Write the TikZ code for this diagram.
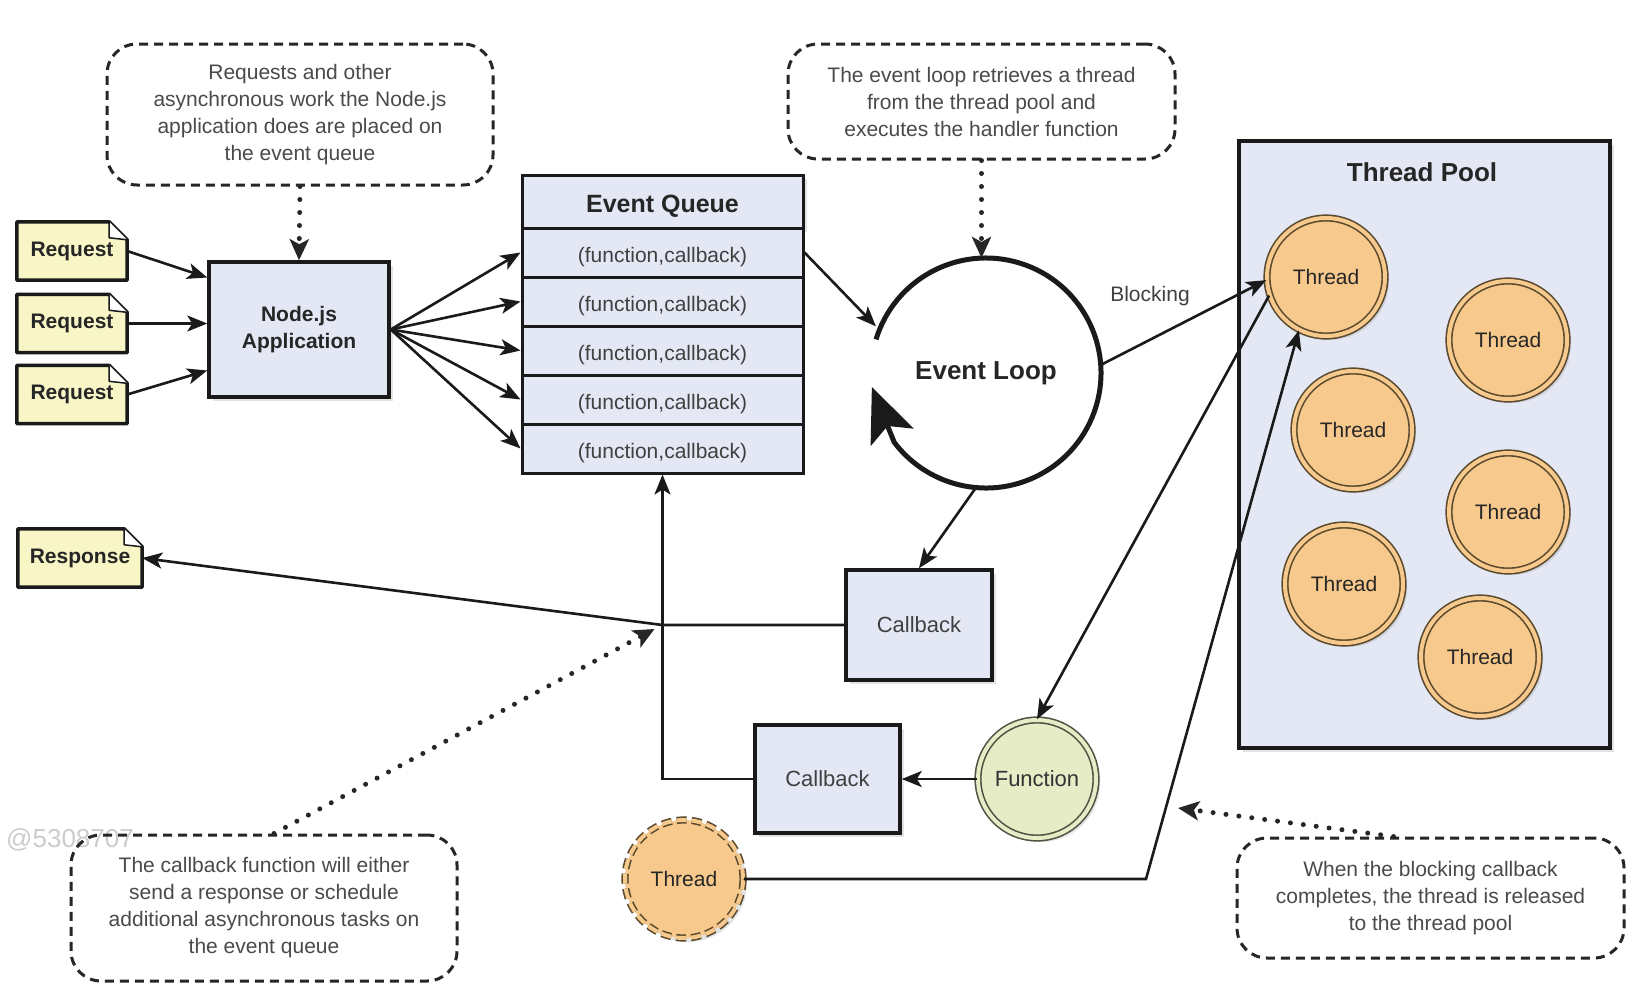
\documentclass[tikz,border=0pt]{standalone}
\usepackage{fontspec}
\setmainfont{Liberation Sans}
\usetikzlibrary{arrows.meta,shadows,calc}
\definecolor{boxfill}{HTML}{E4E8F4}
\definecolor{notefill}{HTML}{F8F5C6}
\definecolor{thfill}{HTML}{F7C98C}
\definecolor{thline}{HTML}{5B4A2E}
\definecolor{fnfill}{HTML}{E5ECC6}
\definecolor{fnline}{HTML}{4E5544}
\definecolor{calltext}{HTML}{4A4A4A}
\definecolor{linecol}{HTML}{1A1A1A}
\newcommand\dogear[1]{%
  \fill[white] ([xshift=-18pt]#1.north east) -- ([xshift=3pt,yshift=3pt]#1.north east) -- ([yshift=-18pt]#1.north east) -- cycle;
  \draw[noteline] (#1.south west) -- (#1.north west) -- ([xshift=-18pt]#1.north east) -- ([yshift=-18pt]#1.north east) -- (#1.south east) -- cycle;
  \draw[draw=linecol, line width=1.5pt, line join=round, fill=white] ([xshift=-18pt]#1.north east) -- ([xshift=-18pt,yshift=-16pt]#1.north east) -- ([yshift=-18pt]#1.north east);
}
\tikzset{
  every node/.style={align=center},
  shadowed/.style={drop shadow={opacity=0.22, shadow xshift=4pt, shadow yshift=-4pt}},
  boxst/.style={draw=linecol, line width=3.5pt, fill=boxfill, inner sep=0pt, shadowed},
  rowst/.style={draw=linecol, line width=3pt, fill=boxfill, minimum width=281pt, minimum height=49pt, inner sep=0pt, text height=22pt, text depth=3pt, font=\fontsize{21}{25}\selectfont, text=black!75},
  notest/.style={fill=notefill, minimum height=58pt, inner sep=0pt, font=\bfseries\fontsize{21}{25}\selectfont, text=black!85},
  noteline/.style={draw=linecol, line width=3.5pt, line join=round},
  callst/.style={draw=black!85, line width=3pt, dash pattern=on 9pt off 6pt, rounded corners=30pt, inner sep=0pt, font=\fontsize{21}{27}\selectfont, text=calltext},
  arr/.style={draw=linecol, line width=2.6pt, -{Stealth[length=20pt,width=16pt,inset=5pt]}},
  dotarr/.style={draw=black!85, line width=5pt, line cap=round, dash pattern=on 0pt off 13pt, -{Stealth[length=21pt,width=19pt,inset=5pt]}},
  threadst/.style={circle, draw=thline, line width=1.6pt, double=thfill, double distance=4pt, fill=thfill, minimum size=118pt, inner sep=0pt, font=\fontsize{21}{25}\selectfont, text=black!85, shadowed},
  cbst/.style={boxst, font=\fontsize{22}{26}\selectfont, text=black!75},
}
\begin{document}
\begin{tikzpicture}[x=1pt,y=-1pt]
\fill[white] (0,0) rectangle (1637,1001);
\path[use as bounding box] (0,0) rectangle (1637,1001);

% watermark
\node[text=black!20, font=\fontsize{26}{30}\selectfont, anchor=west, inner sep=0pt] (wm) at (6,840) {@5308707};

% thread pool
\node[boxst, minimum width=371pt, minimum height=607pt, anchor=north west] (pool) at (1237,139) {};
\node[font=\bfseries\fontsize{26}{30}\selectfont, text=black!85] (pooltitle) at (1422,172) {Thread Pool};
\node[threadst] (t1) at (1326,277) {Thread};
\node[threadst] (t2) at (1508,340) {Thread};
\node[threadst] (t3) at (1353,430) {Thread};
\node[threadst] (t4) at (1508,512) {Thread};
\node[threadst] (t5) at (1344,584) {Thread};
\node[threadst] (t6) at (1480,657) {Thread};

% requests / response
\node[notest, minimum width=110pt] (req1) at (72,251) {Request};
\dogear{req1}
\node[notest, minimum width=110pt] (req2) at (72,323.5) {Request};
\dogear{req2}
\node[notest, minimum width=110pt] (req3) at (72,394.5) {Request};
\dogear{req3}
\node[notest, minimum width=124pt] (resp) at (80,558) {Response};
\dogear{resp}

% node.js app
\node[boxst, minimum width=180pt, minimum height=135pt, font=\bfseries\fontsize{21}{27}\selectfont, text=black!85] (app) at (299,329.5) {Node.js\\Application};

% event queue
\node[rowst, minimum height=53pt, font=\bfseries\fontsize{25}{30}\selectfont, text=black!85, shadowed, text height=24pt, text depth=2pt] (eqh) at (662.5,201.5) {Event Queue};
\node[rowst] (r1) at (662.5,252.5) {(function,callback)};
\node[rowst] (r2) at (662.5,301.5) {(function,callback)};
\node[rowst] (r3) at (662.5,350.5) {(function,callback)};
\node[rowst] (r4) at (662.5,399.5) {(function,callback)};
\node[rowst] (r5) at (662.5,448.5) {(function,callback)};

% event loop
\node[circle, minimum size=230pt, inner sep=0pt, outer sep=0pt, font=\bfseries\fontsize{26}{30}\selectfont, text=black!85] (loop) at (986,373) {Event Loop};
\draw[linecol, line width=5pt, -{Stealth[length=54pt,width=46pt,inset=12pt]}] (loop.163) arc[start angle=163, end angle=-143, radius=115pt] -- (loop.187);

% callbacks, function, thread
\node[cbst, minimum width=146pt, minimum height=110pt] (cb1) at (919,625) {Callback};
\node[cbst, minimum width=145pt, minimum height=108pt] (cb2) at (827.5,779) {Callback};
\node[circle, draw=fnline, line width=1.6pt, double=fnfill, double distance=4pt, fill=fnfill, minimum size=118pt, inner sep=0pt, font=\fontsize{22}{26}\selectfont, text=black!80, shadowed] (fn) at (1037,779) {Function};
\node[threadst, dash pattern=on 10pt off 5pt] (th0) at (684,879) {Thread};

% callouts
\node[callst, minimum width=386pt, minimum height=141pt] (c1) at (300,114.5) {Requests and other\\asynchronous work the Node.js\\application does are placed on\\the event queue};
\node[callst, minimum width=387pt, minimum height=115pt] (c2) at (981.5,101.5) {The event loop retrieves a thread\\from the thread pool and\\executes the handler function};
\node[callst, minimum width=386pt, minimum height=146pt] (c3) at (264,908) {The callback function will either\\send a response or schedule\\additional asynchronous tasks on\\the event queue};
\node[callst, minimum width=387pt, minimum height=120pt] (c4) at (1430.5,898) {When the blocking callback\\completes, the thread is released\\to the thread pool};

% connectors
\draw[arr] (req1.east) -- ([yshift=52pt]app.west);
\draw[arr] (req2.east) -- (app.west |- req2.east);
\draw[arr] (req3.east) -- ([yshift=-41pt]app.west);
\foreach \r in {r1,r2,r3,r4,r5} { \draw[arr] (app.east) -- (\r.west); }
\draw[arr, shorten >=5pt] (r1.east) -- (loop.158);
\draw[arr] (loop.4) -- (t1.183);
\node[font=\fontsize{21}{25}\selectfont, text=black!75] (blk) at (1150,296) {Blocking};
\draw[arr] (t1.198) -- (fn.north);
\draw[arr] (loop.265) -- (cb1.north);
\draw[arr] (fn.west) -- (cb2.east);
\coordinate (jn) at (r5.south |- cb1.west);
\draw[arr] (cb1.west) -- (jn) -- (resp.east);
\draw[arr] (cb2.west) -- (cb2.west -| r5.south) -- (r5.south);
\coordinate (bend) at (1146,879);
\draw[arr] (th0.east) -- (bend) -- (t1.243);

% dotted callout arrows
\draw[dotarr] (c1.south) -- (app.north);
\draw[dotarr] (c2.south) -- (c2.south |- loop.north);
\draw[dotarr] ([xshift=10pt]c3.north) -- ([shift={(-8pt,-4pt)}]jn);
\coordinate (c4tip) at (1178,808);
\draw[dotarr] ([xshift=-37pt]c4.north) -- (c4tip);
\end{tikzpicture}
\end{document}
